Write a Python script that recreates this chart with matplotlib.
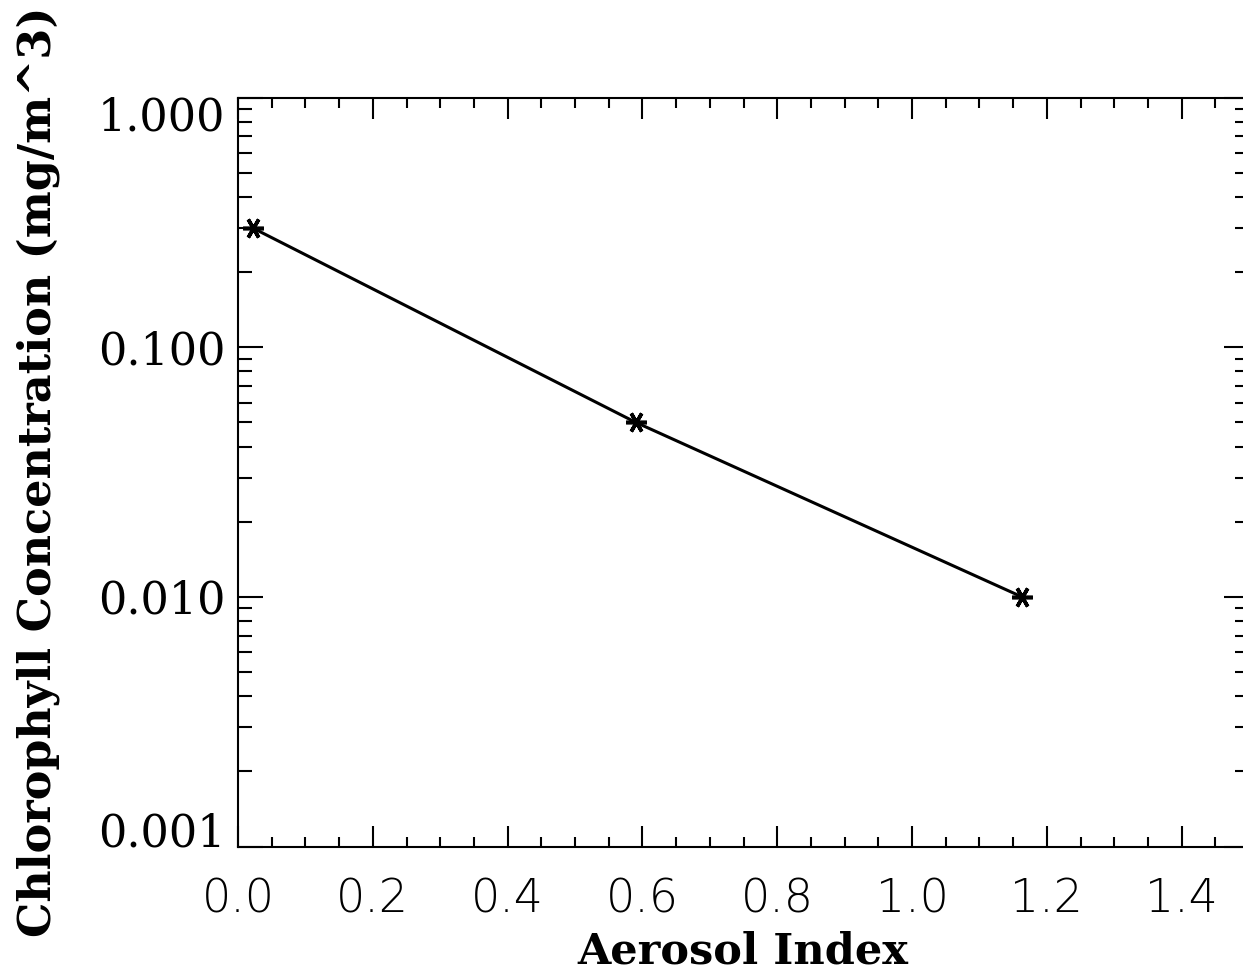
import matplotlib
matplotlib.use("Agg")
import matplotlib.pyplot as plt
import matplotlib.transforms as mtransforms
from matplotlib.ticker import FixedLocator, LogLocator, NullFormatter, MultipleLocator

aerosol_index = [0.022, 0.59, 1.163]
chlorophyll = [0.30, 0.050, 0.010]
x_ticks = [0.0, 0.2, 0.4, 0.6, 0.8, 1.0, 1.2, 1.4]
x_tick_labels = ["0.0", "0.2", "0.4", "0.6", "0.8", "1.0", "1.2", "1.4"]
y_ticks = [0.001, 0.01, 0.1, 1.0]
y_tick_labels = ["0.001", "0.010", "0.100", "1.000"]

W, H = 1243, 975
fig = plt.figure(figsize=(W / 100, H / 100), dpi=100)
L, R, T, B = 238, 1249, 97.5, 846.5
ax = fig.add_axes([L / W, 1 - B / H, (R - L) / W, (B - T) / H])

ax.plot(aerosol_index, chlorophyll, color="black", lw=2.2,
        marker=(6, 2, 90), markersize=15, markeredgewidth=2.6)

ax.set_yscale("log")
ax.set_xlim(0, 1.5)
ax.set_ylim(0.001, 1.0)

ax.xaxis.set_major_locator(FixedLocator(x_ticks))
ax.set_xticklabels(x_tick_labels, fontfamily="DejaVu Sans", fontweight="light",
                   fontsize=33)
ax.xaxis.set_minor_locator(MultipleLocator(0.05))
ax.yaxis.set_major_locator(FixedLocator(y_ticks))
ax.set_yticklabels(y_tick_labels, fontfamily="DejaVu Serif", fontsize=32)
ax.yaxis.set_minor_locator(LogLocator(base=10, subs=range(2, 10)))
ax.yaxis.set_minor_formatter(NullFormatter())

ax.tick_params(which="both", direction="in", top=True, right=True, width=1.5,
               color="black")
ax.tick_params(axis="x", which="major", length=15, pad=22)
ax.tick_params(axis="x", which="minor", length=7)
ax.tick_params(axis="y", which="major", length=18, pad=9)
ax.tick_params(axis="y", which="minor", length=10)
for s in ax.spines.values():
    s.set_linewidth(1.5)

# IDL keeps the end labels inside the axis range
ylabels = ax.get_yticklabels()
ylabels[0].set_transform(ylabels[0].get_transform() +
                         mtransforms.ScaledTranslation(0, 17 / 100, fig.dpi_scale_trans))
ylabels[-1].set_transform(ylabels[-1].get_transform() +
                          mtransforms.ScaledTranslation(0, -16 / 100, fig.dpi_scale_trans))

fig.text(743 / W, 1 - 951 / H, "Aerosol Index", fontfamily="DejaVu Serif",
         fontweight="bold", fontsize=31, ha="center", va="center")
fig.text(38 / W, 1 - 472 / H, "Chlorophyll Concentration (mg/m^3)",
         fontfamily="DejaVu Serif", fontweight="bold", fontsize=32,
         rotation=90, ha="center", va="center")

fig.savefig("out.png", dpi=100)
